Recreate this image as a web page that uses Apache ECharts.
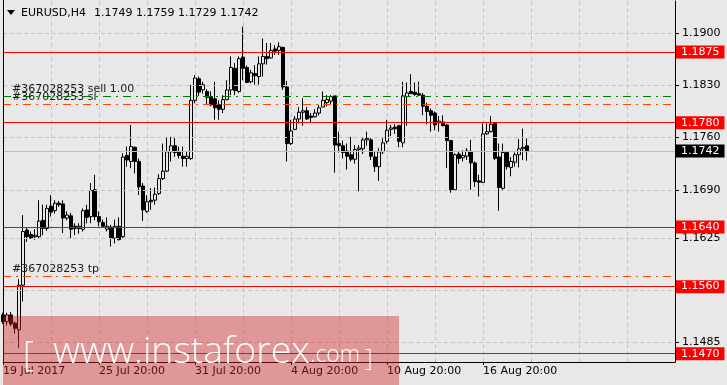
<!DOCTYPE html>
<html><head><meta charset="utf-8">
<script src="https://cdn.jsdelivr.net/npm/echarts@6/dist/echarts.min.js"></script>
<style>html,body{margin:0;padding:0;background:#e8e8e8;overflow:hidden}#c{width:727px;height:385px}</style>
</head><body><div id="c"></div>
<script>
// ---- data (EURUSD H4, bars from 19 Jul 2017 20:00) ----
const opens = [1.1522,1.1513,1.1522,1.1511,1.1502,1.1562,1.1636,1.1630,1.1627,1.1627,
1.1649,1.1638,1.1668,1.1662,1.1672,1.1671,1.1652,1.1655,1.1641,1.1638,
1.1637,1.1663,1.1654,1.1690,1.1654,1.1646,1.1637,1.1640,1.1625,1.1641,
1.1627,1.1736,1.1728,1.1747,1.1728,1.1695,1.1661,1.1676,1.1676,1.1685,
1.1705,1.1715,1.1741,1.1749,1.1741,1.1735,1.1732,1.1732,1.1810,1.1839,
1.1824,1.1822,1.1815,1.1812,1.1804,1.1798,1.1811,1.1824,1.1853,1.1822,
1.1868,1.1854,1.1835,1.1846,1.1842,1.1859,1.1869,1.1867,1.1879,1.1877,
1.1881,1.1828,1.1752,1.1771,1.1785,1.1794,1.1796,1.1789,1.1788,1.1793,
1.1801,1.1807,1.1809,1.1816,1.1752,1.1749,1.1742,1.1737,1.1731,1.1744,
1.1745,1.1757,1.1757,1.1734,1.1721,1.1741,1.1755,1.1771,1.1774,1.1776,
1.1753,1.1815,1.1822,1.1821,1.1819,1.1817,1.1802,1.1796,1.1793,1.1780,
1.1781,1.1777,1.1756,1.1690,1.1738,1.1733,1.1735,1.1741,1.1726,1.1702,
1.1700,1.1765,1.1768,1.1779,1.1734,1.1692,1.1740,1.1720,1.1727,1.1737,
1.1745,1.1749];
const highs = [1.1525,1.1525,1.1526,1.1513,1.1570,1.1656,1.1640,1.1634,1.1637,1.1676,
1.1670,1.1670,1.1683,1.1676,1.1675,1.1676,1.1661,1.1659,1.1645,1.1645,
1.1665,1.1670,1.1699,1.1710,1.1661,1.1650,1.1653,1.1643,1.1650,1.1653,
1.1739,1.1748,1.1777,1.1748,1.1732,1.1699,1.1683,1.1692,1.1693,1.1711,
1.1752,1.1761,1.1761,1.1761,1.1748,1.1748,1.1741,1.1831,1.1844,1.1842,
1.1835,1.1825,1.1822,1.1835,1.1810,1.1817,1.1837,1.1869,1.1860,1.1869,
1.1909,1.1857,1.1851,1.1857,1.1869,1.1893,1.1887,1.1887,1.1884,1.1888,
1.1882,1.1836,1.1784,1.1789,1.1801,1.1813,1.1801,1.1793,1.1798,1.1804,
1.1822,1.1817,1.1817,1.1816,1.1768,1.1756,1.1752,1.1761,1.1750,1.1750,
1.1761,1.1768,1.1760,1.1741,1.1746,1.1759,1.1784,1.1777,1.1778,1.1777,
1.1835,1.1834,1.1845,1.1834,1.1835,1.1820,1.1807,1.1799,1.1795,1.1789,
1.1790,1.1778,1.1757,1.1739,1.1742,1.1743,1.1746,1.1757,1.1728,1.1710,
1.1779,1.1779,1.1789,1.1780,1.1752,1.1752,1.1741,1.1734,1.1740,1.1758,
1.1772,1.1759];
const lows = [1.1510,1.1508,1.1507,1.1497,1.1478,1.1540,1.1620,1.1624,1.1623,1.1625,
1.1629,1.1635,1.1654,1.1658,1.1667,1.1632,1.1649,1.1625,1.1629,1.1631,
1.1634,1.1645,1.1645,1.1649,1.1641,1.1640,1.1634,1.1614,1.1618,1.1622,
1.1625,1.1721,1.1719,1.1712,1.1683,1.1648,1.1659,1.1663,1.1670,1.1683,
1.1703,1.1714,1.1728,1.1734,1.1732,1.1721,1.1721,1.1730,1.1806,1.1816,
1.1819,1.1804,1.1802,1.1784,1.1784,1.1793,1.1810,1.1817,1.1817,1.1820,
1.1837,1.1833,1.1833,1.1831,1.1831,1.1842,1.1858,1.1866,1.1871,1.1871,
1.1824,1.1728,1.1750,1.1770,1.1779,1.1776,1.1784,1.1780,1.1787,1.1790,
1.1801,1.1802,1.1805,1.1713,1.1740,1.1732,1.1717,1.1728,1.1725,1.1688,
1.1738,1.1749,1.1730,1.1714,1.1702,1.1738,1.1752,1.1762,1.1765,1.1747,
1.1747,1.1776,1.1819,1.1816,1.1816,1.1790,1.1778,1.1768,1.1770,1.1768,
1.1775,1.1719,1.1686,1.1689,1.1725,1.1728,1.1730,1.1690,1.1694,1.1681,
1.1699,1.1764,1.1767,1.1730,1.1662,1.1690,1.1717,1.1708,1.1721,1.1720,
1.1730,1.1729];
const closes = [1.1513,1.1522,1.1510,1.1504,1.1562,1.1634,1.1627,1.1625,1.1629,1.1648,
1.1638,1.1665,1.1660,1.1672,1.1670,1.1652,1.1656,1.1637,1.1638,1.1641,
1.1662,1.1653,1.1689,1.1654,1.1647,1.1641,1.1641,1.1625,1.1641,1.1623,
1.1734,1.1730,1.1748,1.1728,1.1694,1.1663,1.1674,1.1674,1.1684,1.1705,
1.1715,1.1741,1.1749,1.1740,1.1736,1.1732,1.1735,1.1810,1.1840,1.1821,
1.1831,1.1814,1.1804,1.1800,1.1798,1.1811,1.1824,1.1854,1.1823,1.1866,
1.1853,1.1834,1.1847,1.1843,1.1859,1.1869,1.1866,1.1877,1.1876,1.1882,
1.1828,1.1752,1.1769,1.1785,1.1794,1.1796,1.1785,1.1787,1.1793,1.1800,
1.1810,1.1811,1.1815,1.1750,1.1749,1.1740,1.1735,1.1731,1.1744,1.1746,
1.1757,1.1759,1.1735,1.1721,1.1741,1.1753,1.1770,1.1773,1.1772,1.1755,
1.1816,1.1820,1.1819,1.1818,1.1817,1.1802,1.1795,1.1790,1.1777,1.1782,
1.1776,1.1756,1.1690,1.1737,1.1732,1.1736,1.1742,1.1726,1.1701,1.1700,
1.1765,1.1768,1.1778,1.1732,1.1693,1.1740,1.1721,1.1728,1.1737,1.1745,
1.1747,1.1742];
const xTickLabels = ['19 Jul 2017','25 Jul 20:00','31 Jul 20:00','4 Aug 20:00','10 Aug 20:00','16 Aug 20:00'];
const barsPerLabel = 24;
const totalSlots = 169;
const priceTicks = [1.1900,1.1830,1.1760,1.1690,1.1625,1.1555,1.1485];
const levelLines = [1.1875,1.1780,1.1640,1.1560,1.1470];
const bidPrice = 1.1742;
const orderPrices = [1.1816,1.1805,1.1574];
const orderLabels = ['#367028253 sell 1.00','#367028253 sl','#367028253 tp'];
const orderColors = ['#008000','#ff4500','#ff4500'];
const symbolTitle = 'EURUSD,H4';

// ---- chart ----
const FONT = '"DejaVu Sans", sans-serif';
const BG = '#e8e8e8';
const categories = Array.from({length: totalSlots}, (_, i) => i);
const candles = opens.map((o, i) => [o, closes[i], lows[i], highs[i]]);
const isLabelIdx = (i) => i % barsPerLabel === 0 && (i / barsPerLabel) < xTickLabels.length;

const chart = echarts.init(document.getElementById('c'), null, {renderer: 'canvas'});
const option = {
  backgroundColor: BG,
  animation: false,
  grid: {left: 3, right: 52, top: 1, bottom: 23},
  xAxis: {
    type: 'category', data: categories, boundaryGap: false,
    axisLine: {show: true, lineStyle: {color: '#000', width: 1}},
    axisTick: {show: true, length: 3, interval: (i) => isLabelIdx(i), lineStyle: {color: '#000'}},
    axisLabel: {interval: (i) => isLabelIdx(i), formatter: (v, i) => xTickLabels[i / barsPerLabel] || '',
      align: 'left', margin: 4, color: '#000', fontFamily: FONT, fontSize: 11},
    splitLine: {show: true, interval: 11, lineStyle: {color: '#c4c4c4', type: [4, 3], width: 1}}
  },
  yAxis: {
    type: 'value', position: 'right', min: 1.145885, max: 1.194335,
    axisLine: {show: true, onZero: false, lineStyle: {color: '#000', width: 1}},
    axisTick: {show: true, length: 4, customValues: priceTicks, lineStyle: {color: '#000'}},
    axisLabel: {customValues: priceTicks, formatter: (v) => Number(v).toFixed(4), margin: 7,
      color: '#000', fontFamily: FONT, fontSize: 11},
    splitLine: {show: false}
  },
  series: [
    {type: 'line', data: [], z: 1, silent: true,
     markLine: {silent: true, symbol: 'none', animation: false, precision: 4, label: {show: false},
       lineStyle: {color: '#c4c4c4', type: [4, 3], width: 1},
       data: priceTicks.map(v => ({yAxis: v}))}},
    {type: 'line', data: [], z: 2, silent: true,
     markLine: {silent: true, symbol: 'none', animation: false, precision: 4,
       lineStyle: {color: '#bdbdbd', type: 'solid', width: 1},
       label: {show: true, position: 'end', distance: 1, formatter: (p) => Number(p.value).toFixed(4),
         color: '#fff', backgroundColor: '#000', padding: [1, 5, 0, 5], lineHeight: 12,
         fontFamily: FONT, fontSize: 11},
       data: [{yAxis: bidPrice}]}},
    {type: 'candlestick', data: candles, z: 3, barWidth: 3, silent: true,
     itemStyle: {color: BG, color0: '#000', borderColor: '#000', borderColor0: '#000', borderWidth: 1}},
    {type: 'line', data: [], z: 4, silent: true,
     markLine: {silent: true, symbol: 'none', animation: false, precision: 4,
       data: orderPrices.map((v, i) => ({yAxis: v, lineStyle: {color: orderColors[i], type: [8, 5, 2, 5], width: 1}, label: {show: false}}))}},
    {type: 'line', data: [], z: 5, silent: true,
     markLine: {silent: true, symbol: 'none', animation: false, precision: 4,
       lineStyle: {color: '#ff0000', type: 'solid', width: 1},
       label: {show: true, position: 'end', distance: 1, formatter: (p) => Number(p.value).toFixed(4),
         color: '#fff', backgroundColor: '#ff0000', padding: [1, 5, 0, 5], lineHeight: 12,
         fontFamily: FONT, fontSize: 11},
       data: levelLines.map(v => ({yAxis: v}))}}
  ]
};
chart.setOption(option);

// overlay texts positioned through the axis scale
const graphics = [];
graphics.push({type: 'polygon', shape: {points: [[7, 10], [15, 10], [11, 15]]}, style: {fill: '#000'}, z: 50});
const last = opens.length - 1;
graphics.push({type: 'text', x: 21, y: 13, z: 50, style: {text: symbolTitle, font: '11px ' + FONT, fill: '#000', verticalAlign: 'middle'}});
graphics.push({type: 'text', x: 94, y: 13, z: 50, style: {text: [opens[last], highs[last], lows[last], closes[last]].map(v => v.toFixed(4)).join(' '), font: '11px ' + FONT, fill: '#000', verticalAlign: 'middle'}});
orderPrices.forEach((p, i) => {
  const y = chart.convertToPixel({yAxisIndex: 0}, p);
  graphics.push({type: 'text', x: 12, y: y - 7, z: 40, style: {text: orderLabels[i], font: '11px ' + FONT, fill: '#1a1a1a', verticalAlign: 'middle'}});
});

// watermark
const ctx = document.createElement('canvas').getContext('2d');
const WF = '"Open Sans", Lato, sans-serif';
function fit(text, weight, width) { ctx.font = weight + ' 100px ' + WF; return 100 * width / ctx.measureText(text).width; }
const s1 = fit('www.instaforex', 300, 257);
const s2 = fit('.com', 300, 50);
graphics.push({type: 'rect', shape: {x: 3, y: 316, width: 396, height: 69}, style: {fill: 'rgba(212,30,30,0.4)'}, z: 90});
graphics.push({type: 'text', x: 23, y: 366 + 0.22 * 34, z: 91, style: {text: '[', font: '300 34px ' + WF, fill: '#fff', verticalAlign: 'bottom'}});
graphics.push({type: 'text', x: 53, y: 361 + 0.27 * s1, z: 91, style: {text: 'www.instaforex', font: '300 ' + s1 + 'px ' + WF, fill: '#fff', verticalAlign: 'bottom'}});
graphics.push({type: 'text', x: 310, y: 361 + 0.27 * s2, z: 91, style: {text: '.com', font: '300 ' + s2 + 'px ' + WF, fill: '#fff', verticalAlign: 'bottom'}});
graphics.push({type: 'text', x: 365, y: 366 + 0.22 * 24, z: 91, style: {text: ']', font: '300 24px ' + WF, fill: '#fff', verticalAlign: 'bottom'}});
// left border
graphics.push({type: 'line', shape: {x1: 3.5, y1: 0, x2: 3.5, y2: 362}, style: {stroke: '#000', lineWidth: 1}, z: 60});
chart.setOption({graphic: graphics});
</script></body></html>
